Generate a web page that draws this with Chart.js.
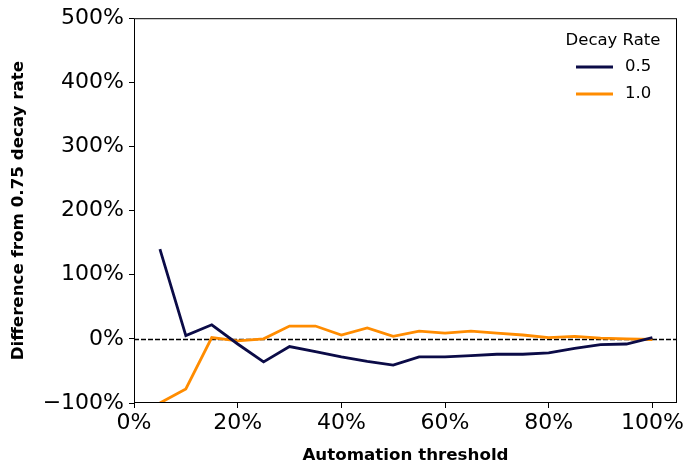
<!DOCTYPE html>
<html>
<head>
<meta charset="utf-8">
<script src="https://cdn.jsdelivr.net/npm/chart.js@4"></script>
<style>
  html, body { margin: 0; padding: 0; background: #fff; }
  #wrap { width: 693px; height: 474px; }
</style>
</head>
<body>
<div id="wrap"><canvas id="chart"></canvas></div>
<script>
// automation thresholds (%)
const thresholds = [5, 10, 15, 20, 25, 30, 35, 40, 45, 50, 55, 60, 65, 70, 75, 80, 85, 90, 95, 100]
// difference from 0.75 decay rate (%)
const decay05 = [140, 5, 22, -8, -36, -12, -20, -28, -35, -41, -28, -28, -26, -24, -24, -22, -15, -9, -8, 2]
const decay10 = [-100, -78, 2, -3, 0, 20, 20, 6, 17, 4, 12, 9, 12, 9, 6, 2, 4, 1, 0, -1]
const xTicks = [0, 20, 40, 60, 80, 100]
const yTicks = [-100, 0, 100, 200, 300, 400, 500]

const FONT = 'DejaVu Sans'

const toPoints = vals => vals.map((v, i) => ({ x: thresholds[i], y: v }))
const pct = v => String(v).replace('-', '\u2212') + '%'

// frame, zero line and legend in matplotlib style
const extras = {
  id: 'extras',
  beforeDatasetsDraw(chart) {
    const { ctx, chartArea: a, scales } = chart
    const y0 = Math.round(scales.y.getPixelForValue(0)) + 0.5
    ctx.save()
    ctx.strokeStyle = '#000'
    ctx.lineWidth = 1.3
    ctx.setLineDash([5, 2])
    ctx.beginPath()
    ctx.moveTo(a.left, y0)
    ctx.lineTo(a.right, y0)
    ctx.stroke()
    ctx.restore()
  },
  afterDraw(chart) {
    const { ctx, chartArea: a } = chart
    ctx.save()
    ctx.strokeStyle = '#000'
    ctx.lineWidth = 1
    ctx.strokeRect(a.left + 0.5, a.top + 0.5, a.right - a.left - 1, a.bottom - a.top - 1)

    // legend
    ctx.font = '16.5px ' + FONT
    ctx.fillStyle = '#000'
    ctx.textBaseline = 'middle'
    ctx.textAlign = 'center'
    ctx.fillText('Decay Rate', 613, 41)
    ctx.textAlign = 'left'
    chart.data.datasets.forEach((ds, i) => {
      const y = 67 + i * 27
      ctx.strokeStyle = ds.borderColor
      ctx.lineWidth = 2.8
      ctx.beginPath()
      ctx.moveTo(576, y)
      ctx.lineTo(613, y)
      ctx.stroke()
      ctx.fillText(ds.label, 625, y)
    })
    ctx.restore()
  }
}

new Chart(document.getElementById('chart').getContext('2d'), {
  type: 'line',
  data: {
    datasets: [
      {
        label: '0.5',
        data: toPoints(decay05),
        borderColor: '#0b0b47',
        borderWidth: 2.8,
        pointRadius: 0,
        tension: 0
      },
      {
        label: '1.0',
        data: toPoints(decay10),
        borderColor: '#ff8c00',
        borderWidth: 2.8,
        pointRadius: 0,
        tension: 0
      }
    ]
  },
  options: {
    responsive: true,
    maintainAspectRatio: false,
    animation: false,
    layout: { padding: { top: 18, right: 16, left: 0, bottom: 0 } },
    plugins: {
      legend: { display: false },
      tooltip: { enabled: false }
    },
    scales: {
      x: {
        type: 'linear',
        min: 0,
        max: 104.75,
        afterBuildTicks: s => { s.ticks = xTicks.map(v => ({ value: v })) },
        afterFit: s => { s.height = 71 },
        grid: { drawOnChartArea: false, drawTicks: true, tickLength: 5, color: '#000' },
        border: { display: false },
        ticks: {
          color: '#000',
          padding: 2,
          maxRotation: 0,
          autoSkip: false,
          font: { family: FONT, size: 22 },
          callback: pct
        },
        title: {
          display: true,
          text: 'Automation threshold',
          color: '#000',
          font: { family: FONT, size: 16.7, weight: 'bold' },
          padding: { top: 6, bottom: 8 }
        }
      },
      y: {
        min: -100,
        max: 500,
        afterBuildTicks: s => { s.ticks = yTicks.map(v => ({ value: v })) },
        afterFit: s => { s.width = 134 },
        grid: { drawOnChartArea: false, drawTicks: true, tickLength: 5, color: '#000' },
        border: { display: false },
        ticks: {
          color: '#000',
          padding: 5,
          autoSkip: false,
          font: { family: FONT, size: 22 },
          callback: pct
        },
        title: {
          display: true,
          text: 'Difference from 0.75 decay rate',
          color: '#000',
          font: { family: FONT, size: 16.7, weight: 'bold' },
          padding: { top: 9, bottom: 0 }
        }
      }
    }
  },
  plugins: [extras]
})
</script>
</body>
</html>
